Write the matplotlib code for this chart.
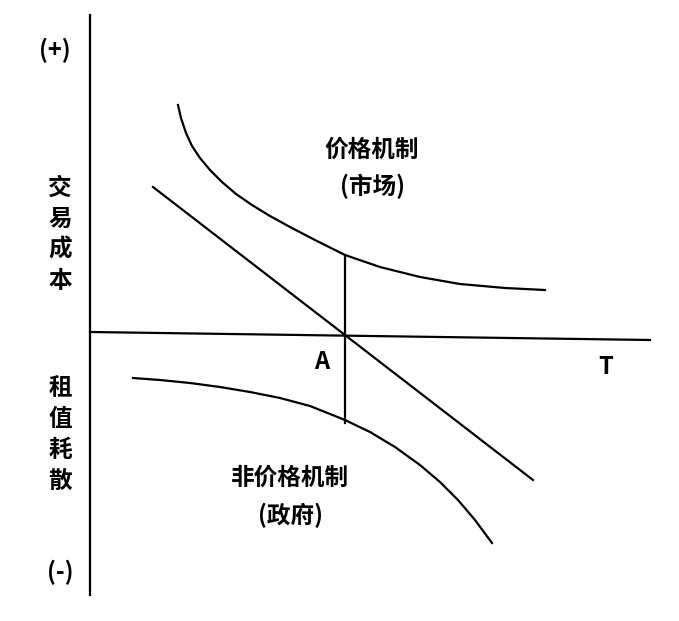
import matplotlib.pyplot as plt

plt.rcParams['font.family'] = ['Noto Sans CJK SC', 'DejaVu Sans']

# curves (pixel coordinates)
upper_x = [178, 181, 186, 192, 200, 210, 222, 236, 252, 270, 290, 315, 345, 380, 420, 460, 505, 545]
upper_y = [105, 118, 133, 146, 158, 170, 182, 194, 205, 216, 227, 240, 255, 267, 277, 284, 288, 290]
line_x = [153, 533]
line_y = [187, 480]
lower_x = [133, 160, 190, 220, 250, 280, 310, 345, 370, 395, 420, 440, 458, 475, 492]
lower_y = [378, 380, 383, 387, 392, 398, 406, 420, 432, 447, 465, 482, 500, 520, 543]
mark_x = [345, 345]
mark_y = [255, 423]

fig = plt.figure(figsize=(6.79, 6.21), dpi=100)
ax = fig.add_axes([0, 0, 1, 1])
ax.set_xlim(0, 679)
ax.set_ylim(621, 0)
ax.axis('off')

lw = 1.6
ax.plot([90, 90], [15, 595], color='black', lw=lw)
ax.plot([90, 650], [332, 340], color='black', lw=lw)
ax.plot(upper_x, upper_y, color='black', lw=lw)
ax.plot(line_x, line_y, color='black', lw=lw)
ax.plot(lower_x, lower_y, color='black', lw=lw)
ax.plot(mark_x, mark_y, color='black', lw=lw)

kw = dict(fontsize=17, fontweight='bold', ha='center', va='center')
ax.text(55, 50, '(+)', **kw)
ax.text(60, 572, '(-)', **kw)
for i, ch in enumerate('交易成本'):
    ax.text(60, 188 + i * 31, ch, **kw)
for i, ch in enumerate('租值耗散'):
    ax.text(60, 388 + i * 31, ch, **kw)
ax.text(322, 362, 'A', **kw)
ax.text(606, 367, 'T', **kw)
ax.text(372, 150, '价格机制', **kw)
ax.text(372, 186, '(市场)', **kw)
ax.text(290, 478, '非价格机制', **kw)
ax.text(290, 515, '(政府)', **kw)

fig.savefig('out.png', dpi=100)
